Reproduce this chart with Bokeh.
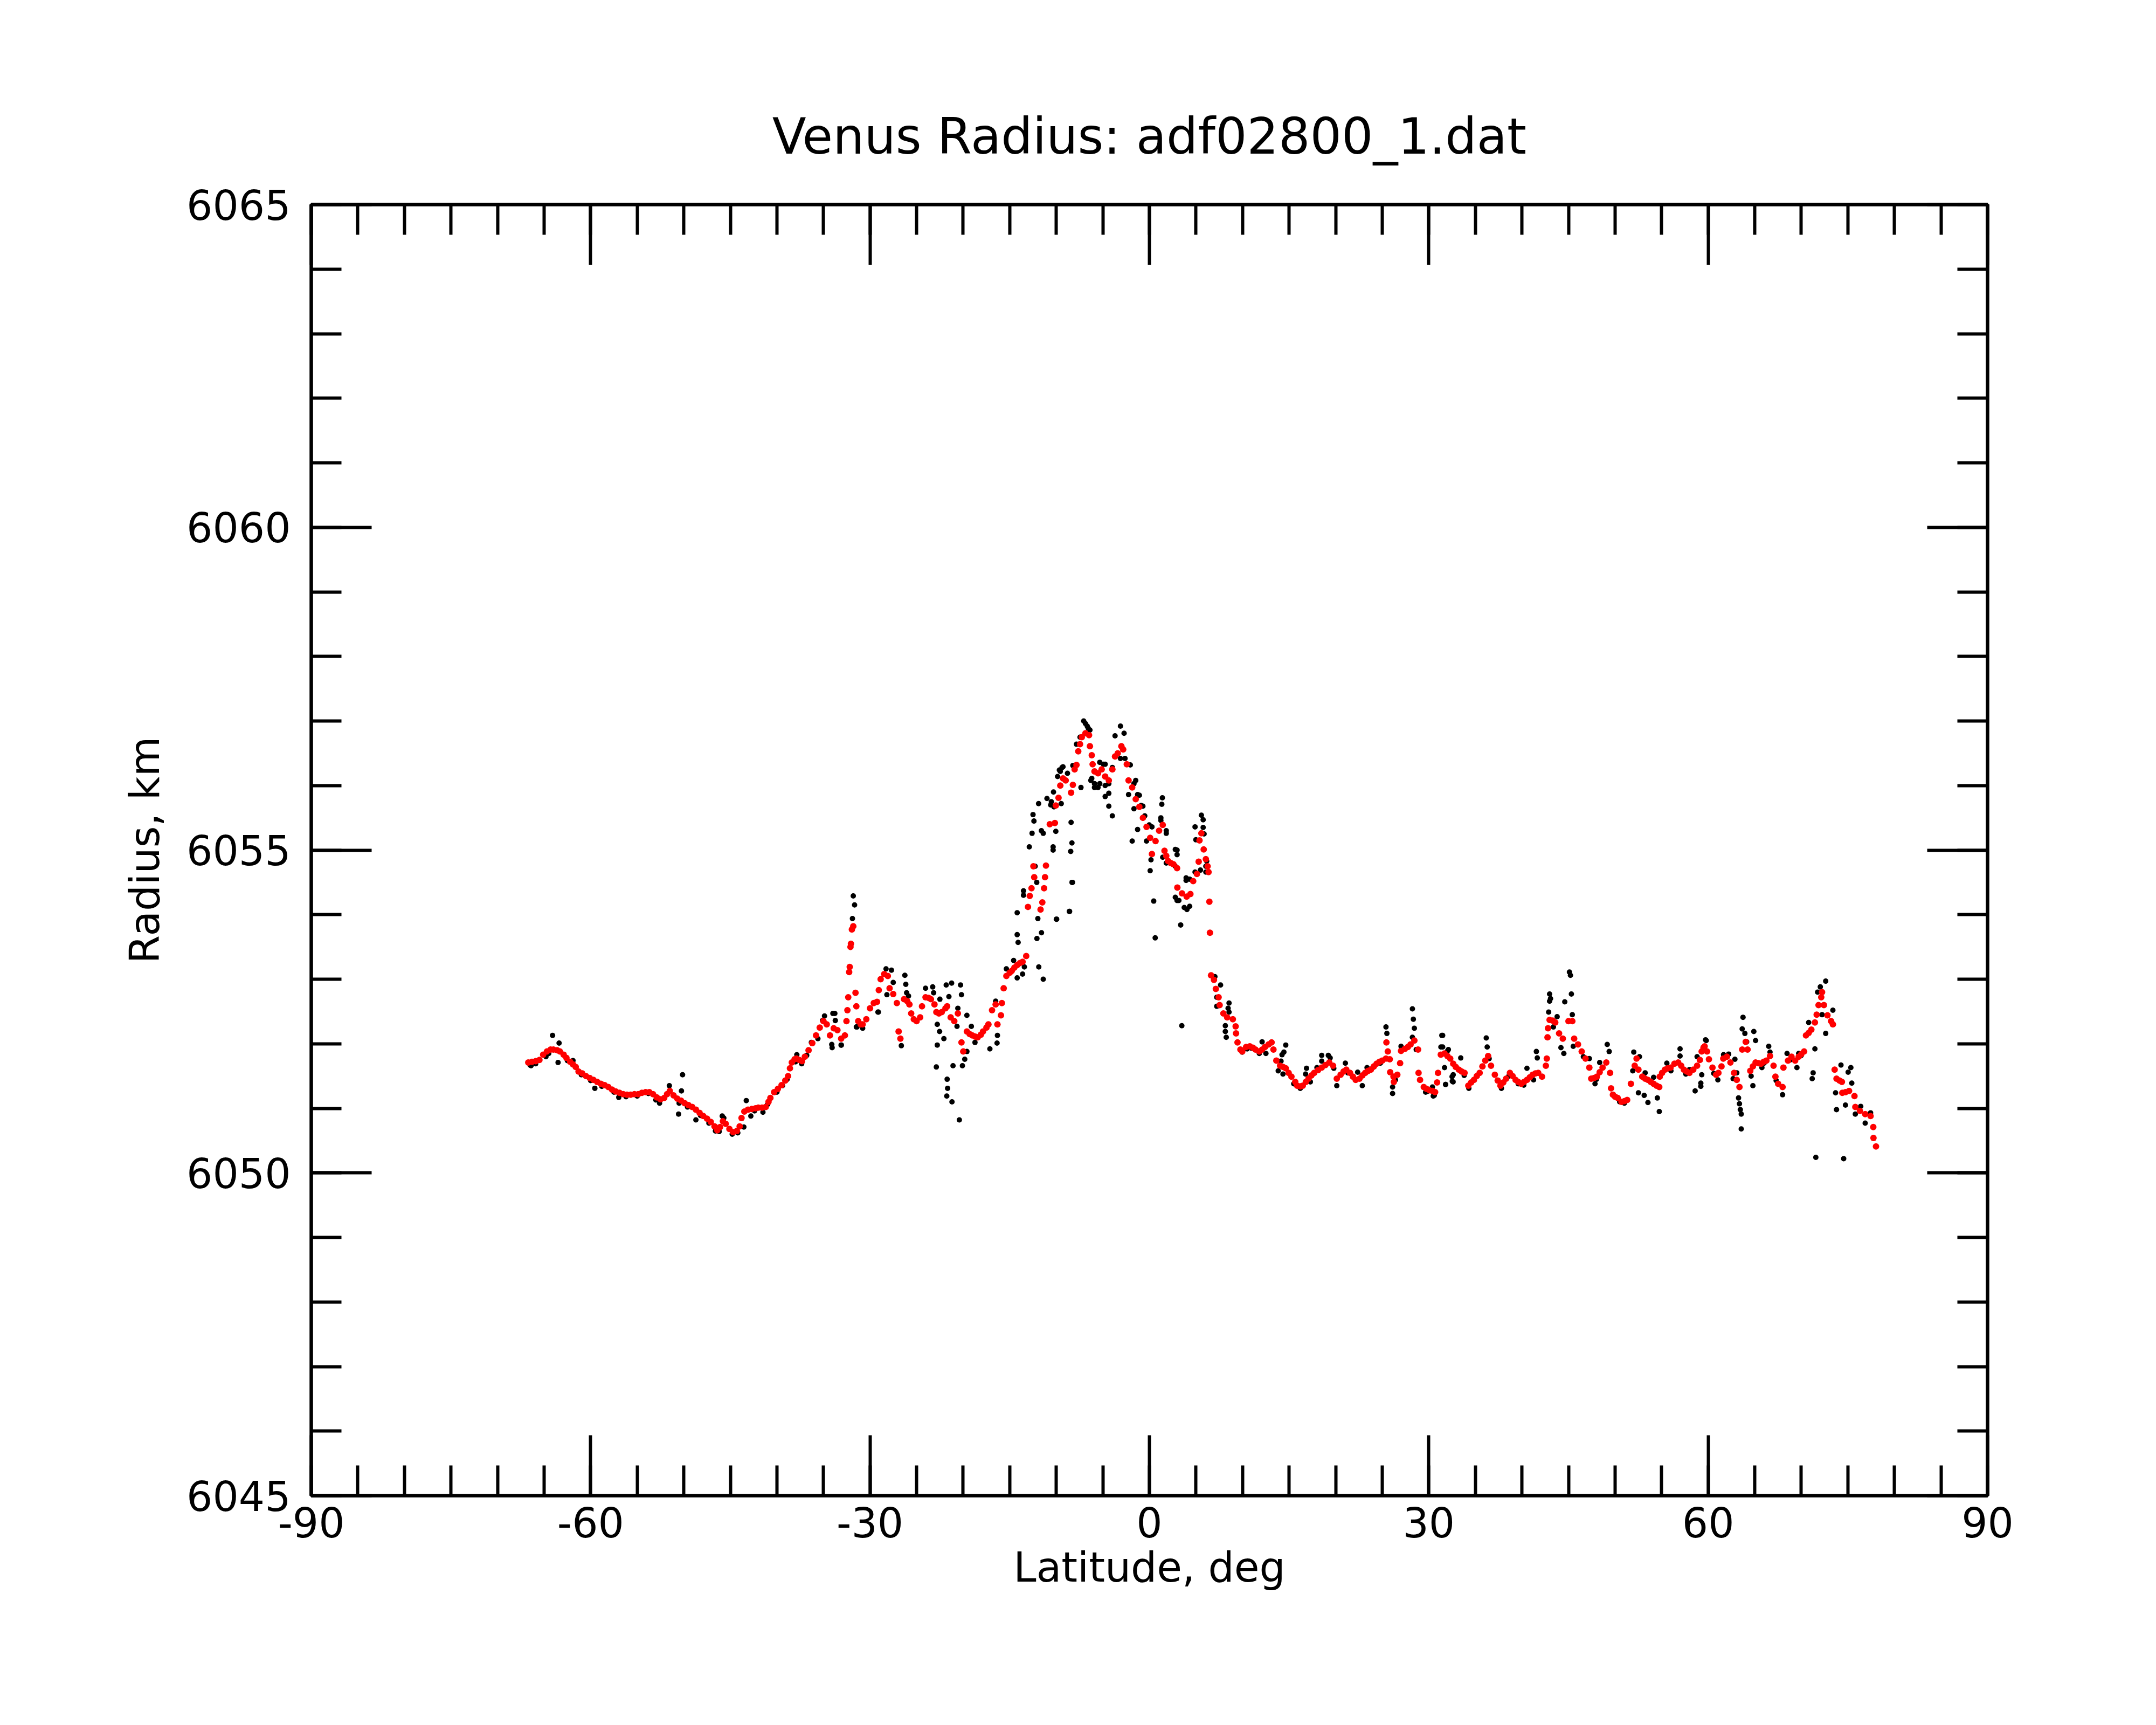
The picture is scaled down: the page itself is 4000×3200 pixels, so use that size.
from bokeh.plotting import figure
from bokeh.models import LinearAxis, SingleIntervalTicker, Range1d, CustomJSTickFormatter
from bokeh.embed import file_html
from bokeh.resources import INLINE

TITLE = "Venus Radius: adf02800_1.dat"
X_LABEL = "Latitude, deg"
Y_LABEL = "Radius, km"

# smoothed (red) radius profile
red_lat = [-66.7, -66.3, -65.9, -65.5, -65.1, -64.7, -64.3, -64.0, -63.6, -63.3, -62.9, -62.6, -62.2, -61.9, -61.6,
           -61.3, -60.9, -60.5, -60.1, -59.7, -59.3, -58.9, -58.5, -58.1, -57.7, -57.3, -56.9, -56.5, -56.1, -55.7,
           -55.3, -54.9, -54.5, -54.1, -53.7, -53.3, -52.9, -52.5, -52.1, -51.8, -51.5, -51.1, -50.7, -50.3, -49.9,
           -49.5, -49.1, -48.7, -48.3, -47.9, -47.5, -47.1, -46.7, -46.4, -46.1, -45.8, -45.5, -45.1, -44.7, -44.3,
           -44.0, -43.8, -43.5, -43.1, -42.7, -42.3, -42.0, -41.6, -41.2, -40.9, -40.7, -40.3, -39.9, -39.5, -39.1,
           -38.8, -38.6, -38.4, -38.1, -37.9, -37.6, -37.3, -37.0, -36.6, -36.2, -35.8, -35.4, -35.0, -34.65, -34.3,
           -33.9, -33.5, -33.1, -32.7, -32.53, -32.43, -32.34, -32.24, -32.18, -32.10, -32.05, -31.95, -31.8, -31.56,
           -31.47, -31.27, -31.0, -30.8, -30.4, -30.0, -29.6, -29.25, -29.06, -28.86, -28.48, -28.09, -27.90, -27.51,
           -27.12, -26.93, -26.74, -26.35, -26.0, -25.77, -25.58, -25.3, -25.0, -24.62, -24.42, -24.04, -23.7, -23.46,
           -23.08, -22.88, -22.6, -22.30, -21.9, -21.72, -21.34, -20.95, -20.57, -20.18, -19.99, -19.60, -19.3, -19.02,
           -18.7, -18.44, -18.1, -17.87, -17.5, -17.29, -16.90, -16.51, -16.32, -15.94, -15.84, -15.65, -15.36, -15.0,
           -14.78, -14.5, -14.20, -13.9, -13.62, -13.23, -13.04, -12.85, -12.66, -12.46, -12.37, -11.69, -11.50, -11.31,
           -11.21, -11.11, -10.7, -10.15, -10.05, -9.76, -9.57, -9.28, -8.99, -8.41, -8.22, -8.03, -7.83, -7.64, -7.45,
           -7.26, -6.87, -6.48, -6.39, -6.19, -6.10, -5.90, -5.52, -5.13, -4.75, -4.36, -3.98, -3.69, -3.40, -3.01,
           -2.82, -2.43, -2.24, -1.85, -1.47, -1.08, -0.70, -0.31, 0.08, 0.27, 0.66, 1.04, 1.43, 1.62, 1.81,
           2.01, 2.3, 2.58, 2.97, 3.0, 3.5, 4.0, 4.4, 4.7, 5.1, 5.29, 5.38, 5.58, 5.83, 6.06,
           6.25, 6.35, 6.44, 6.50, 6.62, 6.93, 7.13, 7.43, 7.54, 7.94, 8.35, 8.96, 9.26, 9.3, 9.46,
           9.77, 9.97, 10.38, 10.78, 11.1, 11.39, 11.80, 12.1, 12.41, 12.8, 13.12, 13.32, 13.63, 14.03, 14.35,
           14.64, 14.95, 15.25, 15.66, 15.86, 16.2, 16.47, 16.8, 17.08, 17.4, 17.69, 18.1, 18.50, 18.9, 19.31,
           19.72, 20.12, 20.53, 20.85, 21.14, 21.54, 21.85, 22.15, 22.56, 22.87, 23.17, 23.48, 23.78, 24.1, 24.39,
           24.7, 25.0, 25.40, 25.45, 25.6, 25.81, 25.85, 26.21, 26.25, 26.62, 26.92, 27.02, 27.43, 27.75, 28.04,
           28.45, 28.85, 28.9, 29.06, 29.46, 29.77, 30.07, 30.39, 30.68, 30.89, 30.99, 31.29, 31.69, 32.0, 32.30,
           32.62, 32.9, 33.23, 33.53, 33.84, 34.24, 34.55, 34.85, 35.15, 35.46, 35.76, 36.07, 36.37, 36.68, 37.09,
           37.4, 37.69, 38.0, 38.30, 38.71, 39.0, 39.32, 39.6, 39.93, 40.23, 40.54, 40.85, 41.15, 41.45, 41.75,
           42.16, 42.57, 42.67, 42.75, 42.8, 42.97, 43.3, 43.58, 43.99, 44.39, 45.00, 45.41, 45.61, 46.02, 46.42,
           46.83, 47.24, 47.44, 47.75, 48.05, 48.35, 48.66, 49.06, 49.47, 49.57, 49.77, 50.0, 50.28, 50.69, 51.0,
           51.30, 51.70, 52.11, 52.31, 52.51, 52.92, 53.23, 53.53, 53.84, 54.14, 54.45, 54.75, 54.8, 55.05, 55.36,
           55.66, 55.96, 56.37, 56.78, 57.1, 57.39, 57.7, 57.99, 58.40, 58.81, 59.11, 59.3, 59.50, 59.62, 59.88,
           60.08, 60.46, 60.85, 61.1, 61.43, 61.62, 62.01, 62.39, 62.78, 63.07, 63.36, 63.65, 64.03, 64.23, 64.52,
           64.8, 65.09, 65.38, 65.67, 65.96, 66.25, 66.64, 67.02, 67.22, 67.51, 67.99, 68.08, 68.57, 68.95, 69.34,
           69.72, 70.0, 70.30, 70.50, 70.8, 71.08, 71.46, 71.65, 71.85, 72.14, 72.23, 72.43, 72.81, 73.20, 73.39,
           73.58, 73.78, 74.1, 74.36, 74.4, 74.75, 75.13, 75.71, 75.80, 76.29, 76.86, 77.44, 77.73, 77.75, 78.02]
red_r = [6051.71, 6051.72, 6051.73, 6051.75, 6051.83, 6051.88, 6051.91, 6051.91, 6051.90, 6051.88, 6051.83, 6051.78, 6051.72, 6051.68, 6051.64,
         6051.57, 6051.54, 6051.50, 6051.47, 6051.44, 6051.41, 6051.38, 6051.36, 6051.33, 6051.29, 6051.26, 6051.24, 6051.22, 6051.21, 6051.21,
         6051.22, 6051.22, 6051.24, 6051.25, 6051.25, 6051.22, 6051.17, 6051.14, 6051.16, 6051.22, 6051.27, 6051.20, 6051.15, 6051.12, 6051.08,
         6051.05, 6051.02, 6050.98, 6050.93, 6050.88, 6050.84, 6050.79, 6050.72, 6050.66, 6050.71, 6050.80, 6050.76, 6050.68, 6050.63, 6050.65,
         6050.72, 6050.85, 6050.95, 6050.98, 6050.99, 6051.00, 6051.01, 6051.01, 6051.02, 6051.10, 6051.16, 6051.25, 6051.30, 6051.36, 6051.43,
         6051.50, 6051.62, 6051.71, 6051.76, 6051.77, 6051.75, 6051.73, 6051.80, 6051.90, 6052.01, 6052.13, 6052.25, 6052.35, 6052.30, 6052.13,
         6052.24, 6052.21, 6052.08, 6052.13, 6052.35, 6052.52, 6052.72, 6053.11, 6053.19, 6053.50, 6053.55, 6053.77, 6053.82, 6052.79,
         6052.58, 6052.35, 6052.30, 6052.30, 6052.38, 6052.55, 6052.63, 6052.65, 6052.83, 6053.00, 6053.08, 6053.05, 6052.86, 6052.77,
         6052.63, 6052.19, 6052.08, 6052.69, 6052.66, 6052.61, 6052.47, 6052.38, 6052.35, 6052.41, 6052.58, 6052.72, 6052.71, 6052.69,
         6052.61, 6052.49, 6052.47, 6052.49, 6052.55, 6052.58, 6052.41, 6052.35, 6052.47, 6052.02, 6051.88, 6052.19, 6052.15, 6052.13,
         6052.11, 6052.10, 6052.14, 6052.19, 6052.25, 6052.30, 6052.52, 6052.61, 6052.30, 6052.44, 6052.63, 6052.86, 6053.05, 6053.10,
         6053.13, 6053.18, 6053.22, 6053.25, 6053.27, 6053.36, 6054.12, 6054.29, 6054.41, 6054.75, 6054.58, 6054.08, 6054.19, 6054.41,
         6054.58, 6054.76, 6055.40, 6055.42, 6055.69, 6055.81, 6056.00, 6056.11, 6056.08, 6055.89, 6056.01, 6056.25, 6056.32, 6056.53, 6056.64,
         6056.75, 6056.81, 6056.78, 6056.61, 6056.47, 6056.33, 6056.22, 6056.19, 6056.25, 6056.14, 6056.08, 6056.25, 6056.45, 6056.50, 6056.61,
         6056.56, 6056.33, 6056.08, 6055.97, 6055.79, 6055.67, 6055.50, 6055.36, 6055.19, 6054.94, 6055.14, 6055.30, 6055.39, 6054.99, 6054.91,
         6054.83, 6054.80, 6054.78, 6054.72, 6054.42, 6054.33, 6054.28, 6054.32, 6054.52, 6054.63, 6054.82, 6055.15, 6055.26, 6055.01, 6054.86,
         6054.75, 6054.66, 6054.20, 6053.72, 6053.06, 6052.99, 6052.85, 6052.72, 6052.60, 6052.47, 6052.41, 6052.38, 6052.27, 6052.16, 6052.02,
         6051.91, 6051.88, 6051.95, 6051.96, 6051.94, 6051.91, 6051.88, 6051.91, 6051.95, 6051.99, 6052.02, 6051.91, 6051.74, 6051.66, 6051.64,
         6051.62, 6051.55, 6051.49, 6051.41, 6051.35, 6051.34, 6051.35, 6051.41, 6051.46, 6051.51, 6051.55, 6051.59, 6051.63, 6051.67, 6051.71,
         6051.66, 6051.46, 6051.52, 6051.57, 6051.60, 6051.55, 6051.49, 6051.44, 6051.46, 6051.51, 6051.55, 6051.58, 6051.60, 6051.65, 6051.69,
         6051.72, 6051.74, 6051.77, 6052.02, 6051.88, 6051.76, 6051.56, 6051.49, 6051.41, 6051.52, 6051.70, 6051.89, 6051.92, 6051.95, 6051.99,
         6052.05, 6051.91, 6051.55, 6051.44, 6051.33, 6051.30, 6051.28, 6051.27, 6051.25, 6051.40, 6051.55, 6051.83, 6051.85, 6051.81, 6051.77,
         6051.69, 6051.64, 6051.60, 6051.57, 6051.55, 6051.35, 6051.40, 6051.44, 6051.50, 6051.55, 6051.65, 6051.74, 6051.81, 6051.66, 6051.52,
         6051.43, 6051.35, 6051.40, 6051.46, 6051.55, 6051.50, 6051.44, 6051.41, 6051.38, 6051.41, 6051.44, 6051.48, 6051.52, 6051.54, 6051.55,
         6051.49, 6051.66, 6051.77, 6052.10, 6052.24, 6052.37, 6052.36, 6052.33, 6052.16, 6052.08, 6052.35, 6052.35, 6052.08, 6051.99, 6051.88,
         6051.77, 6051.63, 6051.46, 6051.47, 6051.49, 6051.56, 6051.63, 6051.71, 6051.55, 6051.31, 6051.21, 6051.18, 6051.16, 6051.10, 6051.11,
         6051.13, 6051.38, 6051.66, 6051.77, 6051.60, 6051.49, 6051.46, 6051.44, 6051.41, 6051.38, 6051.35, 6051.33, 6051.49, 6051.55, 6051.60,
         6051.62, 6051.63, 6051.69, 6051.71, 6051.66, 6051.60, 6051.57, 6051.55, 6051.60, 6051.66, 6051.75, 6051.88, 6051.94, 6051.96, 6051.88,
         6051.76, 6051.63, 6051.52, 6051.55, 6051.65, 6051.77, 6051.80, 6051.71, 6051.55, 6051.44, 6051.33, 6051.91, 6052.03, 6051.91, 6051.58,
         6051.65, 6051.71, 6051.70, 6051.69, 6051.72, 6051.74, 6051.81, 6051.66, 6051.49, 6051.38, 6051.33, 6051.63, 6051.74, 6051.80, 6051.74,
         6051.80, 6051.84, 6051.88, 6052.13, 6052.17, 6052.22, 6052.33, 6052.45, 6052.60, 6052.72, 6052.80, 6052.60, 6052.44, 6052.35, 6052.30,
         6051.60, 6051.46, 6051.43, 6051.41, 6051.24, 6051.25, 6051.27, 6051.19, 6051.02, 6050.96, 6050.91, 6050.88, 6050.71, 6050.54, 6050.41]

# raw (black) radius samples
blk_lat = [-66.5, -66.4, -65.9, -64.8, -64.5, -64.09, -63.39, -63.5, -62.5, -61.9, -61.0, -60.0, -59.55, -58.8, -57.5,
           -56.98, -56.2, -55.0, -53.8, -53.0, -52.6, -51.55, -50.13, -50.25, -50.5, -50.56, -49.6, -48.7, -48.2, -47.3,
           -46.6, -46.2, -45.87, -45.7, -44.8, -44.2, -43.55, -43.29, -42.8, -42.4, -41.5, -41.0, -40.0, -39.4, -38.9,
           -38.0, -37.86, -37.34, -36.8, -36.3, -35.6, -35.1, -34.89, -34.11, -34.07, -33.99, -33.78, -33.73, -33.11, -33.08,
           -31.89, -31.80, -31.66, -31.47, -31.4, -30.79, -29.15, -29.1, -28.28, -28.19, -27.70, -27.51, -26.64, -26.26, -26.16,
           -26.07, -25.87, -24.04, -23.27, -23.17, -22.88, -22.78, -22.78, -22.53, -22.50, -22.07, -21.82, -21.76, -21.72, -21.67,
           -21.53, -21.24, -21.20, -21.09, -20.66, -20.57, -20.41, -20.28, -20.18, -20.08, -19.83, -19.60, -19.60, -19.12, -18.73,
           -17.13, -16.51, -16.36, -16.32, -15.36, -14.58, -14.20, -14.20, -14.20, -14.10, -13.62, -13.52, -13.52, -13.43, -12.9,
           -12.6, -12.5, -12.4, -12.27, -12.08, -12.1, -11.98, -11.9, -11.88, -11.6, -11.59, -11.4, -11.40, -11.0, -10.6,
           -10.53, -10.34, -10.34, -10.3, -10.25, -10.05, -9.99, -9.96, -9.86, -9.67, -9.57, -9.47, -9.38, -9.28, -8.80,
           -8.60, -8.57, -8.45, -8.41, -8.32, -8.31, -8.26, -8.22, -7.83, -7.45, -7.35, -7.06, -6.87, -6.68, -6.58,
           -6.39, -6.29, -6.19, -5.90, -5.90, -5.52, -5.33, -5.33, -4.94, -4.75, -4.75, -4.75, -4.36, -4.36, -4.36,
           -3.98, -3.98, -3.69, -3.11, -3.11, -2.72, -2.62, -2.24, -2.05, -1.85, -1.66, -1.66, -1.47, -1.27, -1.27,
           -1.08, -0.89, -0.70, -0.50, -0.31, -0.02, 0.08, 0.17, 0.27, 0.46, 0.62, 1.23, 1.23, 1.33, 1.39,
           1.43, 1.81, 1.81, 1.81, 2.78, 2.78, 2.78, 2.97, 2.97, 2.97, 3.16, 3.36, 3.48, 3.74, 3.94, 3.94,
           4.03, 4.32, 4.32, 4.90, 4.90, 4.99, 5.48, 5.58, 5.77, 5.77, 5.87, 6.06, 6.06, 6.15, 7.03, 7.23,
           7.23, 7.64, 8.15, 8.15, 8.25, 8.45, 8.55, 8.55, 9.97, 10.5, 11.0, 11.80, 12.10, 12.51, 13.83, 14.13,
           14.24, 14.34, 14.44, 14.64, 15.5, 16.2, 16.77, 16.87, 17.28, 17.99, 18.50, 18.50, 19.21, 19.41, 19.8, 20.12,
           21.04, 21.3, 22.36, 22.86, 23.37, 24.0, 24.8, 25.40, 25.50, 26.11, 26.11, 26.42, 27.02, 28.24, 28.24, 28.34,
           28.45, 28.65, 29.66, 29.8, 30.39, 30.48, 30.59, 31.30, 31.40, 31.49, 31.49, 31.69, 31.80, 31.81, 32.01, 32.10,
           32.50, 32.52, 32.61, 32.62, 33.43, 33.8, 34.3, 36.17, 36.27, 36.48, 37.8, 38.6, 39.6, 40.2, 40.54, 41.25,
           41.55, 41.65, 42.87, 42.97, 42.97, 43.07, 43.38, 43.78, 44.19, 44.50, 44.60, 45.10, 45.21, 45.31, 45.41, 45.51,
           46.6, 47.24, 47.85, 48.0, 48.35, 49.16, 49.37, 50.5, 51.0, 51.9, 52.01, 52.51, 52.62, 53.13, 53.23, 53.53,
           54.14, 54.54, 54.75, 55.56, 56.0, 56.98, 56.98, 57.6, 57.99, 58.60, 58.81, 59.11, 59.21, 59.21, 59.31, 59.72,
           59.79, 60.6, 61.04, 61.65, 62.20, 62.68, 62.87, 63.07, 63.26, 63.36, 63.45, 63.55, 63.55, 63.65, 63.74, 63.94,
           64.13, 64.61, 64.80, 64.90, 65.09, 65.77, 66.0, 66.50, 66.64, 67.3, 67.99, 68.47, 68.8, 69.53, 69.72, 70.0,
           70.79, 71.17, 71.27, 71.46, 71.56, 71.75, 72.04, 72.23, 72.62, 72.62, 73.39, 73.68, 73.78, 74.26, 74.55, 74.74,
           75.03, 75.32, 75.42, 75.80, 76.38, 76.86, 77.44]
blk_r = [6051.67, 6051.66, 6051.69, 6051.80, 6051.85, 6052.13, 6052.01, 6051.71, 6051.74, 6051.74, 6051.52, 6051.43, 6051.31, 6051.34, 6051.25,
         6051.17, 6051.18, 6051.19, 6051.23, 6051.13, 6051.08, 6051.35, 6051.52, 6051.27, 6051.08, 6050.91, 6051.02, 6050.82, 6050.89, 6050.77,
         6050.65, 6050.64, 6050.88, 6050.85, 6050.60, 6050.62, 6050.71, 6051.12, 6050.88, 6050.96, 6050.94, 6051.06, 6051.25, 6051.35, 6051.45,
         6051.72, 6051.83, 6051.69, 6051.82, 6052.02, 6052.08, 6052.36, 6052.43, 6051.99, 6051.94, 6052.47, 6052.47, 6052.36, 6051.98, 6051.98,
         6053.94, 6054.29, 6054.15, 6052.26, 6052.26, 6052.24, 6052.49, 6052.49, 6053.16, 6052.76, 6053.14, 6052.95, 6051.97, 6053.06, 6052.92,
         6052.79, 6052.74, 6052.86, 6052.88, 6052.79, 6051.64, 6052.30, 6051.98, 6052.19, 6052.69, 6052.08, 6052.91, 6051.19, 6051.45, 6051.31,
         6052.73, 6052.94, 6051.10, 6051.66, 6052.27, 6052.55, 6050.82, 6052.91, 6052.76, 6051.66, 6051.76, 6051.88, 6052.44, 6052.27, 6052.02,
         6051.92, 6052.66, 6052.01, 6052.13, 6053.16, 6053.29, 6053.02, 6054.03, 6053.69, 6053.57, 6053.08, 6054.37, 6054.30, 6053.19, 6055.05,
         6055.26, 6055.55, 6055.45, 6054.75, 6053.63, 6054.50, 6053.94, 6055.72, 6053.19, 6055.30, 6053.72, 6055.26, 6053.00, 6055.80, 6055.70,
         6055.75, 6055.05, 6055.00, 6055.90, 6055.67, 6055.29, 6053.93, 6053.93, 6056.14, 6056.24, 6056.22, 6055.72, 6056.28, 6056.29, 6056.19,
         6054.05, 6054.05, 6054.98, 6055.43, 6055.11, 6054.50, 6054.50, 6056.31, 6056.64, 6056.75, 6055.97, 6057.00, 6056.96, 6056.92, 6056.89,
         6056.86, 6056.08, 6056.11, 6055.97, 6056.03, 6055.97, 6056.36, 6056.03, 6056.33, 6055.83, 6056.00, 6056.33, 6055.88, 6055.68, 6056.03,
         6055.53, 6056.28, 6056.77, 6056.92, 6056.42, 6056.81, 6056.42, 6055.86, 6056.32, 6055.14, 6055.64, 6056.03, 6056.08, 6055.32, 6055.86,
         6055.85, 6055.69, 6055.68, 6055.53, 6055.14, 6055.39, 6054.68, 6054.85, 6055.36, 6054.21, 6053.64, 6055.46, 6055.50, 6055.71, 6055.81,
         6054.89, 6055.26, 6055.30, 6054.80, 6055.01, 6054.75, 6054.27, 6054.93, 6055.00, 6054.22, 6054.22, 6053.84, 6052.28, 6054.11, 6054.57, 6054.53,
         6054.08, 6054.13, 6054.55, 6055.36, 6054.66, 6055.16, 6054.69, 6055.54, 6055.47, 6055.35, 6055.25, 6054.66, 6054.75, 6054.83, 6053.04, 6052.72,
         6052.58, 6052.91, 6052.28, 6052.19, 6052.10, 6052.55, 6052.63, 6052.49, 6051.87, 6051.92, 6051.93, 6051.85, 6052.03, 6051.85, 6051.58, 6051.73,
         6051.83, 6051.53, 6051.87, 6051.98, 6051.38, 6051.31, 6051.53, 6051.62, 6051.41, 6051.63, 6051.82, 6051.73, 6051.82, 6051.78, 6051.62, 6051.35,
         6051.70, 6051.55, 6051.56, 6051.35, 6051.63, 6051.63, 6051.70, 6052.26, 6052.16, 6051.33, 6051.23, 6051.44, 6051.96, 6052.54, 6052.10, 6052.38,
         6052.24, 6051.91, 6051.25, 6051.26, 6051.33, 6051.19, 6051.20, 6051.95, 6052.13, 6052.13, 6051.95, 6051.63, 6051.37, 6051.37, 6051.89, 6051.91,
         6051.49, 6051.42, 6051.41, 6051.52, 6051.78, 6051.51, 6051.31, 6052.09, 6051.95, 6051.77, 6051.31, 6051.50, 6051.38, 6051.36, 6051.62, 6051.44,
         6051.88, 6051.78, 6052.49, 6052.77, 6052.66, 6052.70, 6052.26, 6052.42, 6051.94, 6051.85, 6052.65, 6053.11, 6053.06, 6052.77, 6052.45, 6051.96,
         6051.80, 6051.77, 6051.38, 6051.45, 6051.71, 6051.99, 6051.88, 6051.10, 6051.08, 6051.58, 6051.87, 6051.24, 6051.80, 6051.20, 6051.55, 6051.09,
         6051.48, 6051.16, 6050.95, 6051.70, 6051.58, 6051.92, 6051.81, 6051.53, 6051.60, 6051.27, 6051.80, 6051.75, 6051.34, 6051.39, 6051.52, 6052.06,
         6052.05, 6051.54, 6051.44, 6051.83, 6051.84, 6051.46, 6051.76, 6051.55, 6051.16, 6051.07, 6050.98, 6050.91, 6050.68, 6052.23, 6052.41, 6052.16,
         6052.03, 6051.50, 6051.35, 6052.19, 6052.05, 6051.63, 6051.70, 6051.96, 6051.87, 6051.43, 6051.21, 6051.85, 6051.75, 6051.63, 6051.85, 6051.82,
         6052.33, 6051.46, 6051.55, 6051.92, 6050.24, 6052.80, 6052.88, 6052.45, 6052.97, 6052.16, 6052.52, 6051.24, 6050.98, 6051.67, 6050.22, 6051.05,
         6051.56, 6051.63, 6051.39, 6050.91, 6051.03, 6050.77, 6050.93]

X_RANGE = (-90, 90)
Y_RANGE = (6045, 6065)
X_STEP, X_MINOR = 30, 6
Y_STEP, Y_MINOR = 5, 5

FONT = "DejaVu Sans"
LINE_W = 6

p = figure(width=3980, height=3180, output_backend="svg", toolbar_location=None,
           x_range=Range1d(*X_RANGE), y_range=Range1d(*Y_RANGE),
           min_border_left=577, min_border_right=293, min_border_top=379, min_border_bottom=406,
           title=TITLE, background_fill_color="white", border_fill_color="white")

p.title.align = "center"
p.title.text_font = FONT
p.title.text_font_size = "92px"
p.title.text_font_style = "normal"
p.title.text_color = "black"
p.title.standoff = 146

p.xgrid.grid_line_color = None
p.ygrid.grid_line_color = None
p.outline_line_color = "black"
p.outline_line_width = LINE_W


def style_axis(ax, show_labels):
    ax.axis_line_width = LINE_W
    ax.axis_line_color = "black"
    ax.major_tick_line_width = LINE_W
    ax.minor_tick_line_width = LINE_W
    ax.major_tick_in = 112
    ax.major_tick_out = 0
    ax.minor_tick_in = 56
    ax.minor_tick_out = 0
    ax.major_label_text_font = FONT
    ax.major_label_text_color = "black"
    ax.axis_label_text_font = FONT
    ax.axis_label_text_font_style = "normal"
    ax.axis_label_text_color = "black"
    if show_labels:
        ax.formatter = CustomJSTickFormatter(code="return Math.round(tick).toString()")
    else:
        ax.formatter = CustomJSTickFormatter(code="return ''")
        ax.major_label_text_font_size = "0px"
        ax.major_label_standoff = 0


xb = p.xaxis[0]
xb.ticker = SingleIntervalTicker(interval=X_STEP, num_minor_ticks=X_MINOR)
style_axis(xb, True)
xb.major_label_text_font_size = "76px"
xb.major_label_standoff = 21
xb.axis_label = X_LABEL
xb.axis_label_text_font_size = "76px"
xb.axis_label_standoff = 8

yl = p.yaxis[0]
yl.ticker = SingleIntervalTicker(interval=Y_STEP, num_minor_ticks=Y_MINOR)
style_axis(yl, True)
yl.major_label_text_font_size = "76px"
yl.major_label_standoff = 38
yl.axis_label = Y_LABEL
yl.axis_label_text_font_size = "76px"
yl.axis_label_standoff = 30

xt = LinearAxis(ticker=SingleIntervalTicker(interval=X_STEP, num_minor_ticks=X_MINOR))
style_axis(xt, False)
p.add_layout(xt, "above")

yr = LinearAxis(ticker=SingleIntervalTicker(interval=Y_STEP, num_minor_ticks=Y_MINOR))
style_axis(yr, False)
p.add_layout(yr, "right")

p.scatter(blk_lat, blk_r, size=10, color="black", line_width=0)
p.scatter(red_lat, red_r, size=12, color="red", line_width=0)

open("out.html", "w").write(file_html(p, INLINE))
